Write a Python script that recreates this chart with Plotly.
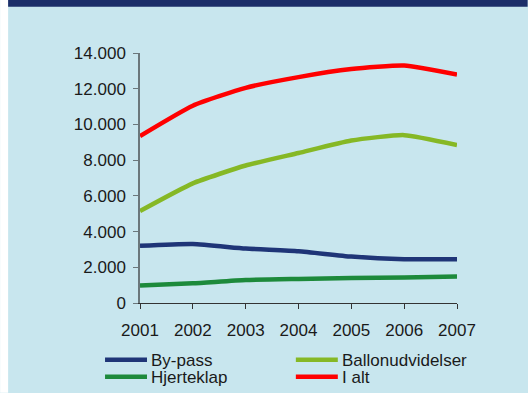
import plotly.graph_objects as go

# Antal behandlinger pr. år
years = [2001, 2002, 2003, 2004, 2005, 2006, 2007]
bypass = [3200, 3300, 3050, 2900, 2600, 2450, 2450]
ballon = [5150, 6700, 7700, 8400, 9100, 9400, 8850]
hjerteklap = [980, 1100, 1290, 1350, 1400, 1430, 1480]
i_alt = [9350, 11050, 12050, 12650, 13100, 13300, 12800]

series_names = ["By-pass", "Ballonudvidelser", "Hjerteklap", "I alt"]
series_values = [bypass, ballon, hjerteklap, i_alt]
series_colors = ["#1F3577", "#86B825", "#1D8A3B", "#FF0000"]

y_ticks = [0, 2000, 4000, 6000, 8000, 10000, 12000, 14000]

W, H = 528, 393
L, R, T, B = 140, 70.7, 53.3, 89.7
PW, PH = W - L - R, H - T - B

BG = "#C8E6EE"
NAVY = "#1C2E69"
FONT = "Liberation Sans, Arial, sans-serif"
TEXT = "#1A1A1A"


def px_x(px):
    return (px - L) / PW


def px_y(py):
    return (H - B - py) / PH


fig = go.Figure()
for name, vals, col in zip(series_names, series_values, series_colors):
    fig.add_trace(go.Scatter(
        x=years, y=vals, name=name, mode="lines",
        line=dict(color=col, width=4.5, shape="spline", smoothing=0.5),
        showlegend=False,
    ))

shapes = [
    # white strip on the left and dark title band on top
    dict(type="rect", xref="paper", yref="paper", layer="above",
         x0=px_x(0), x1=px_x(8), y0=px_y(H), y1=px_y(0),
         fillcolor="white", line=dict(width=0)),
    dict(type="rect", xref="paper", yref="paper", layer="above",
         x0=px_x(8), x1=px_x(W), y0=px_y(7), y1=px_y(0),
         fillcolor=NAVY, line=dict(width=0)),
]

annotations = []
# legend: two columns, two rows
legend_pos = [(105, 360), (296, 360), (105, 377), (296, 377)]
for (lx, ly), name, col in zip(legend_pos, series_names, series_colors):
    shapes.append(dict(type="line", xref="paper", yref="paper",
                       x0=px_x(lx), x1=px_x(lx + 42), y0=px_y(ly), y1=px_y(ly),
                       line=dict(color=col, width=4.5)))
    annotations.append(dict(xref="paper", yref="paper", x=px_x(lx + 44),
                            y=px_y(ly + 1), text=name, showarrow=False,
                            xanchor="left", yanchor="middle",
                            font=dict(family=FONT, size=17, color=TEXT)))

fig.update_layout(
    width=W, height=H,
    margin=dict(l=L, r=R, t=T, b=B, pad=0),
    paper_bgcolor=BG, plot_bgcolor=BG,
    separators=",.",
    font=dict(family=FONT, size=17, color=TEXT),
    shapes=shapes, annotations=annotations,
    showlegend=False,
)
fig.update_xaxes(
    range=[2001, 2007], tickmode="array", tickvals=years,
    ticktext=[str(y) for y in years],
    showline=True, linecolor="#333", linewidth=1.3,
    ticks="outside", ticklen=5, tickcolor="#333", tickwidth=1.3,
    showgrid=False, zeroline=False, ticklabelstandoff=6,
)
fig.update_yaxes(
    range=[0, 14000], tickmode="array", tickvals=y_ticks, tickformat=",.0f",
    showline=True, linecolor="#6B777B", linewidth=1.5,
    ticks="outside", ticklen=5, tickcolor="#6B777B", tickwidth=1.3,
    showgrid=False, zeroline=False, ticklabelstandoff=4,
)

fig.write_html("out.html")
